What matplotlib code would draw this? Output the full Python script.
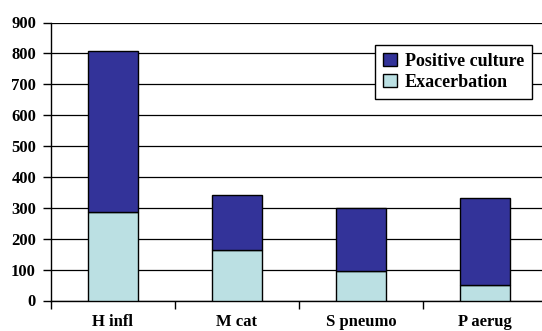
import numpy as np
import matplotlib.pyplot as plt
from matplotlib.ticker import FixedLocator, NullFormatter

categories = ["H infl", "M cat", "S pneumo", "P aerug"]
exacerbation = [285, 164, 97, 49]
positive_culture = [807, 341, 300, 333]  # total bar height

remaining = [p - e for p, e in zip(positive_culture, exacerbation)]

plt.rcParams['font.family'] = ['Liberation Serif', 'DejaVu Serif']
plt.rcParams['font.weight'] = 'bold'

fig = plt.figure(figsize=(5.42, 3.31), dpi=100)
ax = fig.add_axes([51/542, 30.5/331, 496/542, 278/331])

x = np.arange(len(categories))
ax.bar(x, exacerbation, width=0.4, color='#BBE0E3', edgecolor='black', linewidth=1, zorder=3, label='Exacerbation')
ax.bar(x, remaining, width=0.4, bottom=exacerbation, color='#333399', edgecolor='black', linewidth=1, zorder=3, label='Positive culture')

ax.set_xlim(-0.5, len(categories) - 0.5)
ax.set_ylim(0, 900)
ax.set_yticks(np.arange(0, 901, 100))
ax.yaxis.grid(True, color='black', linewidth=0.9, zorder=0)

ax.xaxis.set_major_locator(FixedLocator(np.arange(-0.5, len(categories), 1)))
ax.xaxis.set_major_formatter(NullFormatter())
ax.xaxis.set_minor_locator(FixedLocator(x))
ax.set_xticklabels(categories, minor=True, fontsize=12, fontweight='bold')
ax.tick_params(axis='x', which='major', direction='out', length=5.8, width=1)
ax.tick_params(axis='x', which='minor', length=0, pad=9.5)
ax.tick_params(axis='y', direction='out', length=5.8, width=1, labelsize=12, pad=5)
for lab in ax.get_yticklabels():
    lab.set_fontweight('bold')

for s in ['top', 'right']:
    ax.spines[s].set_visible(False)
ax.spines['left'].set_linewidth(1)
ax.spines['bottom'].set_linewidth(1)

h, l = ax.get_legend_handles_labels()
leg = ax.legend(h[::-1], l[::-1], loc='upper right', bbox_to_anchor=(0.97, 0.919),
                frameon=True, fancybox=False, edgecolor='black', framealpha=1,
                prop={'weight': 'bold', 'size': 13}, handlelength=0.75, handleheight=0.75,
                handletextpad=0.45, borderpad=0.45, labelspacing=0.2, borderaxespad=0)
leg.get_frame().set_linewidth(1)
leg.set_zorder(5)

fig.savefig("out.png", dpi=100)
